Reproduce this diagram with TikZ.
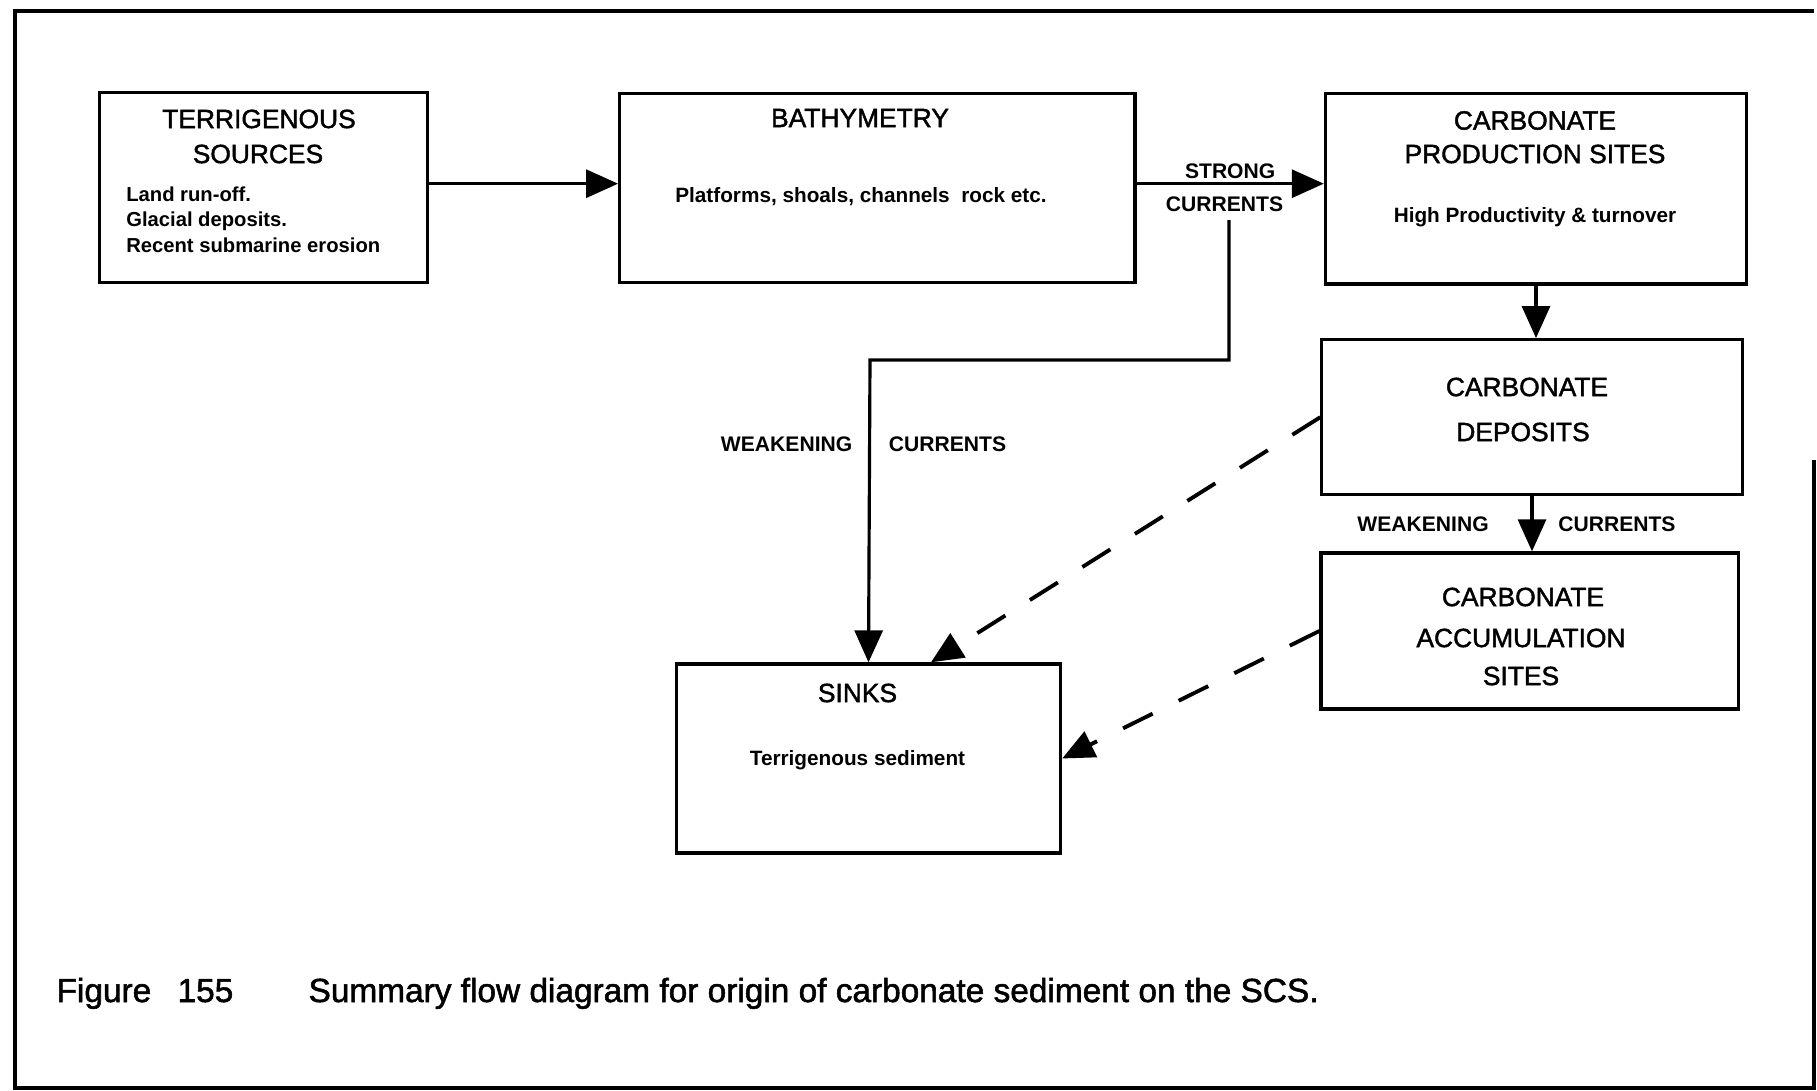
\documentclass[tikz,border=0pt]{standalone}
\usepackage{fontspec}
\setmainfont{Liberation Sans}
\usetikzlibrary{arrows.meta}

\begin{document}
\begin{tikzpicture}[x=0.01cm, y=-0.01cm, >={Triangle[length=3.2mm, width=2.8mm]}, line width=0.9pt,
	box/.style n args={2}{draw, line width=0.9pt, minimum width=#1, minimum height=#2, inner sep=0pt},
	title/.style={font=\fontsize{7.5}{9}\selectfont\addfontfeatures{FakeBold=1.6}},
	note/.style={font=\fontsize{5.9}{7}\selectfont\bfseries},
	lbl/.style={font=\fontsize{6}{7}\selectfont\bfseries},
	weak/.style={->, line width=1.1pt, dash pattern=on 3.3mm off 2.9mm},
	figcap/.style={font=\fontsize{9.5}{11}\selectfont\addfontfeatures{FakeBold=1.6}, anchor=base west, inner sep=0pt}]
	% ==================== 画布与外框 ====================
	\useasboundingbox (0,0) rectangle (1817,1091);
	\draw[line width=1pt] (1814,460) -- (1814,1088) -- (15,1088) -- (15,11) -- (1814,11);
	
	% 1. 方框
	\node[box={3.28cm}{1.90cm}] (terr) at (263.6,187.7) {};
	\node[box={5.15cm}{1.89cm}] (bathy) at (877.3,187.7) {};
	\node[box={4.21cm}{1.90cm}] (prod) at (1536,188.9) {};
	\node[box={4.20cm}{1.55cm}] (dep) at (1532,417.2) {};
	\node[box={4.17cm}{1.56cm}] (acc) at (1529.6,631) {};
	\node[box={3.84cm}{1.89cm}] (sink) at (868.5,758.5) {};
	
	% 2. 方框内文字
	\node[title] (terrA) at (259,119) {TERRIGENOUS};
	\node[title] (terrB) at (258,154) {SOURCES};
	\node[note, font=\fontsize{5.75}{7}\selectfont\bfseries, anchor=base west] (terrC) at (113,201.5) {Land run-off.};
	\node[note, font=\fontsize{5.75}{7}\selectfont\bfseries, anchor=base west] (terrD) at (113,227) {Glacial deposits.};
	\node[note, font=\fontsize{5.75}{7}\selectfont\bfseries, anchor=base west] (terrE) at (113,252.5) {Recent submarine erosion};
	
	\node[title] (bathyA) at (860,118) {BATHYMETRY};
	\node[note] (bathyB) at (861,197) {Platforms, shoals, channels\ \ rock etc.};
	
	\node[title] (prodA) at (1535,120.5) {CARBONATE};
	\node[title] (prodB) at (1535,154) {PRODUCTION SITES};
	\node[note] (prodC) at (1535,216.7) {High Productivity \& turnover};
	
	\node[title] (depA) at (1527,387) {CARBONATE};
	\node[title] (depB) at (1523,432) {DEPOSITS};
	
	\node[title] (accA) at (1523,597) {CARBONATE};
	\node[title] (accB) at (1521,638) {ACCUMULATION};
	\node[title] (accC) at (1521,676) {SITES};
	
	\node[title] (sinkA) at (857.5,693) {SINKS};
	\node[note] (sinkB) at (857.5,760) {Terrigenous sediment};
	
	% 3. 实线箭头
	\draw[->] ([yshift=0.4mm]terr.east) -- ([yshift=0.4mm]bathy.west);
	\draw[->] ([yshift=0.4mm]bathy.east) -- ([yshift=0.4mm]bathy.east -| prod.west)
		node[pos=0.5, above=-0.8mm, lbl] (strong) {STRONG}
		node[pos=0.47, below=0mm, lbl] (curr) {CURRENTS};
	\coordinate (bend) at (870,360);
	\draw[->] ([xshift=0.45mm, yshift=0.5mm]curr.south) |- (bend) -- (sink.north)
		node[pos=0.28, left=0.4mm, lbl] (weakA) {WEAKENING}
		node[pos=0.28, right=0.6mm, lbl] (currA) {CURRENTS};
	\draw[->] (prod.south) -- (prod.south |- dep.north);
	\draw[->] (dep.south) -- (dep.south |- acc.north)
		node[pos=0.5, left=3mm, lbl] (weakB) {WEAKENING}
		node[pos=0.5, right=1.3mm, lbl] (currB) {CURRENTS};
	
	% 4. 虚线箭头
	\draw[weak] (dep.west) -- (sink.57);
	\draw[weak] (acc.west) -- (sink.east);
	
	% 5. 图题
	\node[figcap] (figA) at (55,1002) {Figure};
	\node[figcap] (figB) at (176,1002) {155};
	\node[figcap] (figC) at (307,1002) {Summary flow diagram for origin of carbonate sediment on the SCS.};
\end{tikzpicture}
\end{document}
